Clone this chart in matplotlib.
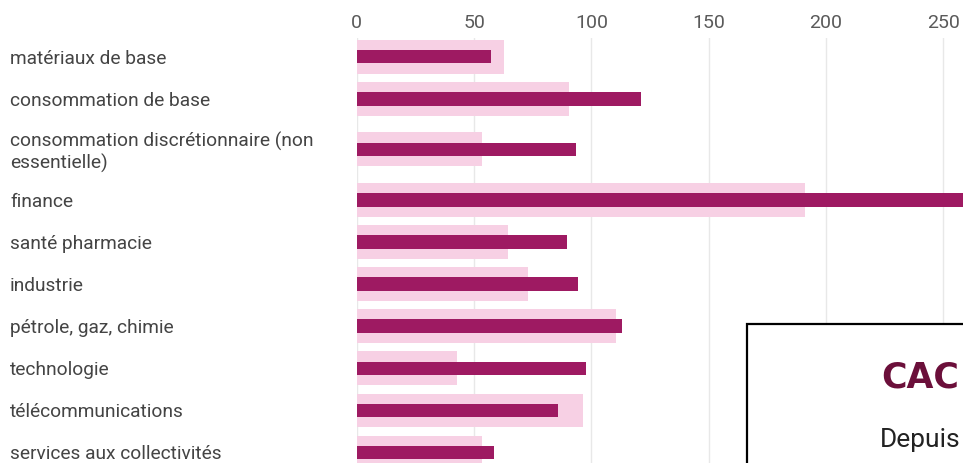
import numpy as np
import matplotlib
matplotlib.use("Agg")
import matplotlib.pyplot as plt
from matplotlib.patches import Rectangle

plt.rcParams['font.family'] = ['Roboto', 'DejaVu Sans']

# sectors (top to bottom)
sectors = ["matériaux de base",
           "consommation de base",
           "consommation discrétionnaire (non\nessentielle)",
           "finance",
           "santé pharmacie",
           "industrie",
           "pétrole, gaz, chimie",
           "technologie",
           "télécommunications",
           "services aux collectivités"]
# light (background) series and dark (foreground) series
light_vals = [62.7, 90.6, 53.2, 191.0, 64.3, 73.1, 110.6, 42.7, 96.5, 53.2]
dark_vals = [57.2, 121.1, 93.5, 275.0, 89.7, 94.4, 112.9, 97.9, 85.9, 58.5]
xticks = [0, 50, 100, 150, 200, 250]

W, H = 963, 463
fig = plt.figure(figsize=(W/100, H/100), dpi=100)

# rows: two-line labels get a bit more room
ypos = []
y = 0.0
for i, s in enumerate(sectors):
    nl = s.count("\n")
    if i > 0:
        y += 1.0 + 0.2*(nl + sectors[i-1].count("\n"))
    ypos.append(y)
ypos = np.array(ypos)

px_row = 42.1
x0_px, ax_top_px = 356.7, 38.0
ax = fig.add_axes([x0_px/W, 0, 1 - x0_px/W, 1 - ax_top_px/H])
ax.barh(ypos, light_vals, height=0.80, color='#f7d0e4', zorder=2)
ax.barh(ypos, dark_vals, height=0.32, color='#9e1a62', zorder=3)

ax.set_xlim(0, (W - x0_px)/2.347)
ax.set_ylim((H - 56.7)/px_row, (ax_top_px - 56.7)/px_row)

ax.set_xticks(xticks)
ax.xaxis.tick_top()
ax.tick_params(axis='x', length=0, pad=4, labelsize=14, labelcolor='#5a5a5a')
ax.grid(axis='x', color='#e8e8e8', lw=1, zorder=0)
ax.set_axisbelow(True)

ax.set_yticks(ypos)
ax.set_yticklabels(sectors, ha='left', linespacing=1.15)
ax.tick_params(axis='y', length=0, pad=(x0_px - 10)*0.72, labelsize=13.8,
               labelcolor='#444444')
for sp in ax.spines.values():
    sp.set_visible(False)

# overlay card in the lower right corner
fig.add_artist(Rectangle((747/W, -0.2), 0.4, 0.2 + 1 - 324/H,
                         transform=fig.transFigure, facecolor='white',
                         edgecolor='black', lw=1.6, zorder=10))
fig.text(881/W, 1 - 388/H, "CAC", fontsize=25, fontweight='heavy',
         family=['DejaVu Sans'], color='#6b0f3a', zorder=11)
fig.text(880/W, 1 - 447/H, "Depuis", fontsize=19, color='#222222', zorder=11)

fig.savefig("out.png", dpi=100)
